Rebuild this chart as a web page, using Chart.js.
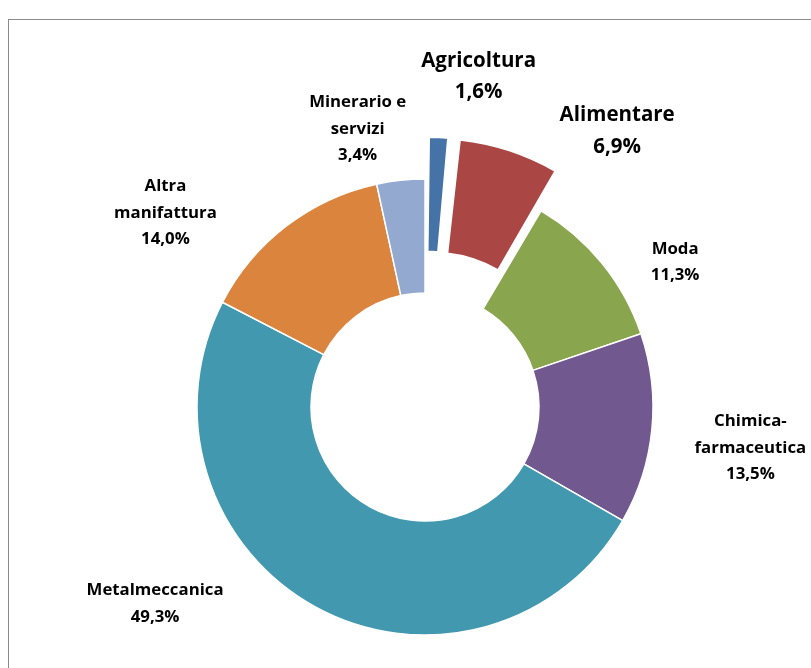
<!DOCTYPE html>
<html>
<head>
<meta charset="utf-8">
<script src="https://cdn.jsdelivr.net/npm/chart.js@4.4.0/dist/chart.umd.min.js"></script>
<style>
    html, body { margin: 0; padding: 0; background: #fff; overflow: hidden; }
    #frame {
        position: absolute; left: 8px; top: 19px;
        width: 840px; height: 700px;
        border: 1.5px solid #8a8a8a;
    }
    #wrap { position: absolute; left: 0; top: 0; width: 811px; height: 668px; }
</style>
</head>
<body>
<div id="frame"></div>
<div id="wrap"><canvas id="chart" width="811" height="668"></canvas></div>
<script>
// Sectors, in drawing order (clockwise from 12 o'clock)
const sectors = [
    ['Agricoltura'],
    ['Alimentare'],
    ['Moda'],
    ['Chimica-', 'farmaceutica'],
    ['Metalmeccanica'],
    ['Altra', 'manifattura'],
    ['Minerario e', 'servizi']
];
const shares = [1.6, 6.9, 11.3, 13.5, 49.3, 14.0, 3.4];
const sliceColors = ['#4572A7', '#AA4643', '#89A54E', '#71588F', '#4198AF', '#DB843D', '#93A9CF'];
// pulled-out slices
const explode = [88, 106, 0, 0, 0, 0, 0];

// label placement: angle shift from the slice mid-angle (deg) and distance from centre
const labelShift = [7.3, 19.7, 9.0, 1.6, 25.3, -15.8, -7.5];
const labelDist = [291, 286, 289, 328, 334, 324, 286];
const labelBig = [true, true, false, false, false, false, false];

const fmt = v => v.toFixed(1).replace('.', ',') + '%';

const outsideLabels = {
    id: 'outsideLabels',
    afterDatasetsDraw(chart) {
        const ctx = chart.ctx;
        const meta = chart.getDatasetMeta(0);
        ctx.save();
        ctx.fillStyle = '#000';
        ctx.textAlign = 'center';
        ctx.textBaseline = 'middle';
        meta.data.forEach((arc, i) => {
            const mid = (arc.startAngle + arc.endAngle) / 2;
            let cx = arc.x, cy = arc.y;
            if (explode[i]) {
                cx += Math.cos(mid) * explode[i] / 2;
                cy += Math.sin(mid) * explode[i] / 2;
            }
            const a = mid + labelShift[i] * Math.PI / 180;
            const x = cx + Math.cos(a) * labelDist[i];
            const y = cy + Math.sin(a) * labelDist[i];
            const lines = [...sectors[i], fmt(shares[i])];
            const size = labelBig[i] ? 20.5 : 16.8;
            const lh = labelBig[i] ? 31.5 : 26.5;
            ctx.font = 'bold ' + size + 'px "Open Sans"';
            const top = y - (lines.length - 1) * lh / 2;
            lines.forEach((t, k) => ctx.fillText(t, x, top + k * lh));
        });
        ctx.restore();
    }
};

new Chart(document.getElementById('chart'), {
    type: 'doughnut',
    data: {
        labels: sectors.map(s => s.join(' ')),
        datasets: [{
            data: shares,
            backgroundColor: sliceColors,
            borderColor: '#ffffff',
            borderWidth: 1.5,
            offset: explode
        }]
    },
    options: {
        responsive: false,
        animation: false,
        radius: 228,
        cutout: '50%',
        layout: { padding: { left: 39, right: 0, top: 146, bottom: 0 } },
        plugins: {
            legend: { display: false },
            tooltip: { enabled: false }
        }
    },
    plugins: [outsideLabels]
});
</script>
</body>
</html>
